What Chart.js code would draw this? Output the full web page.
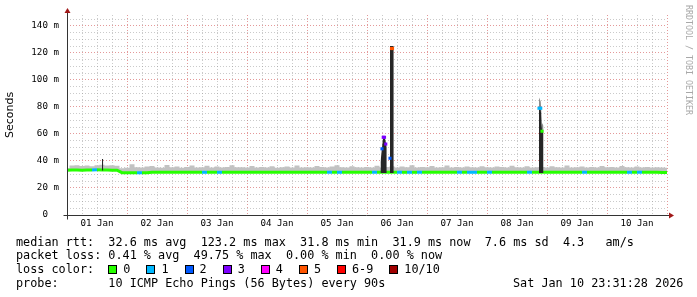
<!DOCTYPE html>
<html><head><meta charset="utf-8">
<script src="https://cdn.jsdelivr.net/npm/chart.js@4"></script>
<style>
html,body{margin:0;padding:0;background:#fff;}
#wrap{position:relative;width:697px;height:297px;overflow:hidden;background:#fff;}
#c{position:absolute;left:0;top:0;}
.ln{position:absolute;left:16px;font-family:"DejaVu Sans Mono",monospace;font-size:11.8px;line-height:14px;color:#000;white-space:pre;}
.row{display:flex;align-items:center;}
.sq{display:inline-block;width:7px;height:7px;border:1px solid #000;margin-right:6px;}
.lab{margin-right:16px;}
#wm{position:absolute;left:684px;top:5px;writing-mode:vertical-rl;font-family:"DejaVu Sans Mono",monospace;font-size:8.3px;color:#a8a8a8;white-space:pre;}
</style></head>
<body>
<div id="wrap">
<canvas id="c" width="697" height="297"></canvas>
<div id="wm">RRDTOOL / TOBI OETIKER</div>
<div class="ln" style="top:234.5px">median rtt:  32.6 ms avg  123.2 ms max  31.8 ms min  31.9 ms now  7.6 ms sd  4.3   am/s</div>
<div class="ln" style="top:248px">packet loss: 0.41 % avg  49.75 % max  0.00 % min  0.00 % now</div>
<div class="ln row" id="lossrow" style="top:262px"></div>
<div class="ln" style="top:275.5px">probe:       10 ICMP Echo Pings (56 Bytes) every 90s</div>
<div class="ln" style="top:275.5px;left:513px">Sat Jan 10 23:31:28 2026</div>
</div>
<script>
// ---- data ----
const dayLabels = ['01 Jan','02 Jan','03 Jan','04 Jan','05 Jan','06 Jan','07 Jan','08 Jan','09 Jan','10 Jan'];
const lossLabels = ['0','1','2','3','4','5','6-9','10/10'];
const lossColors = ['#26ff00','#00b8ff','#0059ff','#7e00ff','#ff00ff','#ff5500','#ff0000','#a10000'];

// hours since 01 Jan 00:00
const hours = [
  0,2,4,6,8,10,12,14,16,18,20,22,
  24,26,28,30,32,34,36,38,40,42,44,46,
  48,50,52,54,56,58,60,62,64,66,68,70,
  72,74,76,78,80,82,84,86,88,90,92,94,
  96,98,100,102,104,106,108,110,112,114,116,118,
  120,122,124,126,128,130,132,134,136,138,140,142,
  144,146,148,150,152,154,156,158,160,162,164,166,
  168,170,172,174,176,178,180,182,184,186,188,190,
  192,194,196,198,200,202,204,206,208,210,212,214,
  216,218,220,222,224,226,228,230,232,234,236,238,
  240
];
// median rtt (ms)
const median = [
  33.1,33.3,33.3,33.2,33.3,33.3,33.4,33.3,33.3,33.2,33.2,31.3,
  31.2,31.2,31.3,31.2,31.2,31.6,31.6,31.7,31.6,31.6,31.7,31.6,
  31.6,31.7,31.6,31.6,31.6,31.7,31.6,31.6,31.7,31.6,31.6,31.6,
  31.6,31.6,31.7,31.6,31.6,31.6,31.7,31.6,31.6,31.6,31.7,31.6,
  31.6,31.6,31.7,31.6,31.6,31.7,31.6,31.6,31.6,31.7,31.6,31.6,
  31.6,31.7,31.6,31.6,31.6,31.6,31.7,31.6,31.6,31.6,31.6,31.7,
  31.6,31.6,31.6,31.7,31.6,31.6,31.6,31.7,31.6,31.6,31.6,31.6,
  31.7,31.6,31.6,31.6,31.6,31.7,31.6,31.6,31.6,31.7,31.6,31.6,
  31.6,31.6,31.7,31.6,31.6,31.6,31.6,31.7,31.6,31.6,31.6,31.6,
  31.6,31.7,31.6,31.6,31.6,31.6,31.7,31.6,31.6,31.6,31.6,31.5,
  31.5
];
// lost pings out of 10
const loss = [
  0,0,0,0,0,1,0,0,0,0,0,0,
  0,0,1,0,0,0,0,0,0,0,0,0,
  0,0,0,1,0,0,1,0,0,0,0,0,
  0,0,0,0,0,0,0,0,0,0,0,0,
  0,0,0,0,1,0,1,0,0,0,0,0,
  0,1,0,0,0,0,1,0,1,0,1,0,
  0,0,0,0,0,0,1,0,1,1,0,0,
  1,0,0,0,0,0,0,0,1,0,0,0,
  0,0,0,0,0,0,0,1,0,0,0,0,
  0,0,0,0,1,0,1,0,0,0,0,0,
  0
];
// top of the smoke (ms)
const smokeHi = [
  34.6,36.6,36.8,36.2,36.6,36.0,36.8,37.2,36.6,36.9,36.4,34.6,
  35.0,37.6,35.4,35.1,35.8,36.2,35.2,35.0,37.0,35.4,35.8,35.0,
  35.6,36.6,35.2,35.4,36.4,35.2,35.8,35.1,35.6,36.8,35.3,35.4,
  35.2,36.2,35.1,35.6,35.2,36.0,35.0,35.4,35.8,35.1,36.6,35.2,
  35.4,35.1,36.2,35.6,35.2,35.8,36.8,35.3,35.2,36.0,35.4,35.1,
  35.6,35.2,36.4,35.1,35.6,36.0,35.2,35.8,35.4,36.8,35.2,35.6,
  35.3,36.2,35.1,35.4,36.6,35.2,35.6,35.1,35.8,35.4,35.2,36.0,
  35.4,35.1,35.8,35.6,35.2,36.4,35.3,35.1,36.0,35.2,35.4,35.6,
  35.2,36.0,35.4,35.1,36.6,35.2,35.4,35.8,35.1,35.6,35.2,36.2,
  35.3,35.6,35.2,36.2,35.4,35.1,35.8,35.2,35.6,35.1,35.4,35.2,
  35.0
];
// latency spikes (dense sampling)
const spikeHours  = [14,14.5,15, 125.4,126,126.5,127,127.5,127.9,128.2, 129.2,129.8,130.2,130.7,131, 188.8,189.5,190,190.6,191];
const spikeLo     = [33.0,33.0,null, 31,31,31,31,31,31,null, 31,31,31,31,null, 31,31,31,31,null];
const spikeHi     = [41.5,41.5,null, 39,50,58.5,58.5,54,50,null, 125,125,125,125,null, 79.5,79,63,63,null];
const spikeHalo   = [null,null,null, null,null,null,null,null,null,null, null,null,null,null,null, 87,84,68,66,null];
const spikeMedian = [null,null,null, null,49,57.5,57.5,52.5,null,null, 42,123.2,123.2,null,null, 79,79,62,null,null];
const spikeLoss   = [0,0,0, 0,2,3,3,3,0,0, 2,5,5,0,0, 1,1,0,0,0];

// ---- build ----
function lossIdx(n){ return n>=10?7:(n>=6?6:n); }
const pts = (xs, ys) => xs.map((x,i)=>({x:x, y:ys[i]}));

const row = document.getElementById('lossrow');
row.appendChild(document.createTextNode('loss color:  '));
lossLabels.forEach((l,i)=>{
  const s=document.createElement('span'); s.className='sq'; s.style.background=lossColors[i]; row.appendChild(s);
  const t=document.createElement('span'); t.className='lab'; t.textContent=l; row.appendChild(t);
});

const MAJOR='rgba(205,70,70,0.55)', MINOR='rgba(150,150,150,0.5)';
const tickFont = {family:'"DejaVu Sans Mono", monospace', size:9.2};

const axisPlugin = {
  id:'rrdAxes',
  afterDraw(chart){
    const {ctx, chartArea:a} = chart;
    const x0 = Math.round(chart.scales.x.getPixelForValue(0))+0.5;
    const y0 = Math.round(chart.scales.y.getPixelForValue(0))+0.5;
    ctx.save();
    ctx.strokeStyle='#333'; ctx.lineWidth=1;
    ctx.beginPath();
    ctx.moveTo(x0, y0+4); ctx.lineTo(x0, a.top-2);
    ctx.moveTo(x0-4, y0); ctx.lineTo(a.right+2, y0);
    ctx.stroke();
    ctx.fillStyle='#a01818';
    ctx.beginPath(); ctx.moveTo(x0, a.top-7); ctx.lineTo(x0-3, a.top-2); ctx.lineTo(x0+3, a.top-2); ctx.closePath(); ctx.fill();
    ctx.beginPath(); ctx.moveTo(a.right+7, y0); ctx.lineTo(a.right+2, y0-3); ctx.lineTo(a.right+2, y0+3); ctx.closePath(); ctx.fill();
    ctx.restore();
  }
};

new Chart(document.getElementById('c'), {
  type:'line',
  data:{ datasets:[
    { // 0 spike medians
      data: pts(spikeHours, spikeMedian), showLine:false, order:0,
      pointStyle:'rect', pointRadius:2.2, pointBorderWidth:0,
      pointBackgroundColor: c => lossColors[lossIdx(spikeLoss[c.dataIndex])],
      pointBorderColor:'rgba(0,0,0,0)'
    },
    { // 1 halo above spike
      data: pts(spikeHours, spikeHalo), order:1, fill:2,
      backgroundColor:'#8c8c8c', borderColor:'rgba(0,0,0,0)', borderWidth:0, pointRadius:0
    },
    { // 2 dark smoke top
      data: pts(spikeHours, spikeHi), order:2, fill:3,
      backgroundColor:'#262626', borderColor:'rgba(0,0,0,0)', borderWidth:0, pointRadius:0
    },
    { // 3 dark smoke bottom
      data: pts(spikeHours, spikeLo), order:3, fill:false,
      borderColor:'rgba(0,0,0,0)', borderWidth:0, pointRadius:0
    },
    { // 4 median line
      data: pts(hours, median), order:4, fill:false, borderWidth:3, pointRadius:0,
      borderColor: lossColors[0],
      segment:{ borderColor: c => lossColors[lossIdx(loss[c.p0DataIndex])] }
    },
    { // 5 smoke
      data: pts(hours, smokeHi), order:5, fill:4, stepped:'middle',
      backgroundColor:'#c2c2c2', borderColor:'rgba(0,0,0,0)', borderWidth:0, pointRadius:0
    }
  ]},
  options:{
    responsive:false, animation:false, events:[],
    layout:{padding:{left:0,right:30,top:15,bottom:62}},
    plugins:{legend:{display:false}, tooltip:{enabled:false}},
    elements:{line:{tension:0}},
    scales:{
      x:{ type:'linear', min:0, max:240,
        afterFit: s => { s.height = 20; },
        border:{display:false, dash:[1,2]},
        grid:{ drawTicks:false, lineWidth:1,
          color: c => (c.tick && c.tick.value % 24 === 0) ? MAJOR : MINOR },
        ticks:{ stepSize:6, autoSkip:false, maxRotation:0, padding:3, color:'#000', font:tickFont,
          callback: v => (v % 24 === 12) ? dayLabels[(v-12)/24] : '' }
      },
      y:{ type:'linear', min:0, max:148,
        afterFit: s => { s.width = 67; },
        border:{display:false, dash:[1,2]},
        title:{display:true, text:'Seconds', color:'#000', padding:{top:4,bottom:0},
          font:{family:'"DejaVu Sans", sans-serif', size:11}},
        grid:{ drawTicks:false, lineWidth:1,
          color: c => (c.tick && c.tick.value % 20 === 0) ? MAJOR : MINOR },
        ticks:{ stepSize:5, autoSkip:false, includeBounds:false, padding:8, color:'#000', font:tickFont,
          callback: v => v === 0 ? '0  ' : (v % 20 === 0 ? v + ' m' : '') }
      }
    }
  },
  plugins:[axisPlugin]
});
</script>
</body></html>
